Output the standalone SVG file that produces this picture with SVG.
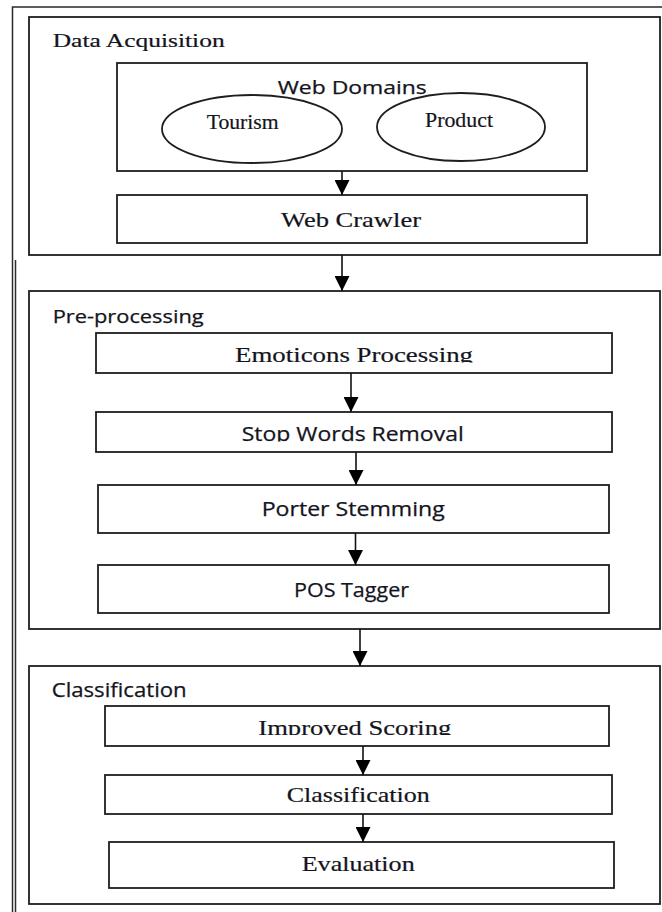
<svg xmlns="http://www.w3.org/2000/svg" width="662" height="912" viewBox="0 0 662 912">
<style>
.box{fill:none;stroke:#1e1e1e;stroke-width:1.8}
.frame{fill:none;stroke:#2a2a2a;stroke-width:1.5}
.conn{stroke:#111;stroke-width:1.6;fill:none}
.serif{font-family:"Liberation Serif","Times New Roman",serif;fill:#141420;stroke:#141420;stroke-width:0.2}
.sans{font-family:"Open Sans","Liberation Sans",Arial,sans-serif;fill:#141420;stroke:#141420;stroke-width:0.25}
</style>
<defs>
<marker id="ah" markerUnits="userSpaceOnUse" markerWidth="15" markerHeight="15" refX="15" refY="7.5" orient="auto">
<path d="M0,0 L15,7.5 L0,15 Z" fill="#000"/>
</marker>
<clipPath id="cEmo"><rect x="96" y="333" width="516" height="29.5"/></clipPath>
<clipPath id="cStop"><rect x="96" y="412" width="516" height="29.5"/></clipPath>
<clipPath id="cImp"><rect x="105" y="706" width="504" height="29"/></clipPath>
</defs>
<rect width="662" height="912" fill="#fff"/>
<g id="frame">
<rect class="frame" x="12.5" y="7" width="700" height="960"/>
<line class="frame" x1="15.5" y1="260" x2="15.5" y2="912" stroke-width="1"/>
</g>
<g id="data-acquisition">
<rect class="box" x="29" y="17" width="631" height="238"/>
<text class="serif" x="52.7" y="46.7" font-size="19" textLength="172" lengthAdjust="spacingAndGlyphs">Data Acquisition</text>
</g>
<g id="web-domains">
<rect class="box" x="117" y="63" width="470" height="108"/>
<text class="sans" x="277.7" y="94" font-size="18" textLength="149" lengthAdjust="spacingAndGlyphs">Web Domains</text>
</g>
<g id="tourism">
<ellipse class="box" cx="252" cy="129" rx="90" ry="34"/>
<text class="serif" x="206.7" y="128.8" font-size="21" textLength="72" lengthAdjust="spacingAndGlyphs">Tourism</text>
</g>
<g id="product">
<ellipse class="box" cx="461" cy="127" rx="84" ry="34"/>
<text class="serif" x="425" y="126.7" font-size="21" textLength="68" lengthAdjust="spacingAndGlyphs">Product</text>
</g>
<g id="web-crawler">
<rect class="box" x="117" y="195" width="470" height="48"/>
<text class="serif" x="281" y="226.7" font-size="21" textLength="140" lengthAdjust="spacingAndGlyphs">Web Crawler</text>
</g>
<g id="pre-processing">
<rect class="box" x="29" y="291" width="631" height="338"/>
<text class="sans" x="52.7" y="323.3" font-size="17.5" textLength="151" lengthAdjust="spacingAndGlyphs">Pre-processing</text>
</g>
<g id="emoticons">
<rect class="box" x="96" y="333" width="516" height="40"/>
<text class="serif" x="235" y="361.7" font-size="22" textLength="238" lengthAdjust="spacingAndGlyphs" clip-path="url(#cEmo)">Emoticons Processing</text>
</g>
<g id="stop-words">
<rect class="box" x="96" y="412" width="516" height="40"/>
<text class="sans" x="241.7" y="440.7" font-size="20" textLength="222" lengthAdjust="spacingAndGlyphs" clip-path="url(#cStop)">Stop Words Removal</text>
</g>
<g id="porter">
<rect class="box" x="98" y="485" width="511" height="48"/>
<text class="sans" x="261.7" y="516" font-size="19.5" textLength="183" lengthAdjust="spacingAndGlyphs">Porter Stemming</text>
</g>
<g id="pos">
<rect class="box" x="98" y="565" width="511" height="48"/>
<text class="sans" x="294" y="597" font-size="20" textLength="115" lengthAdjust="spacingAndGlyphs">POS Tagger</text>
</g>
<g id="classification-stage">
<rect class="box" x="29" y="666" width="631" height="238"/>
<text class="sans" x="51.7" y="696.7" font-size="19.5" textLength="135" lengthAdjust="spacingAndGlyphs">Classification</text>
</g>
<g id="improved-scoring">
<rect class="box" x="105" y="706" width="504" height="40"/>
<text class="serif" x="258.3" y="734.5" font-size="22" textLength="193" lengthAdjust="spacingAndGlyphs" clip-path="url(#cImp)">Improved Scoring</text>
</g>
<g id="classification">
<rect class="box" x="105" y="775" width="507" height="39"/>
<text class="serif" x="286.7" y="802.3" font-size="22" textLength="143" lengthAdjust="spacingAndGlyphs">Classification</text>
</g>
<g id="evaluation">
<rect class="box" x="109" y="842" width="505" height="46"/>
<text class="serif" x="301.7" y="870.7" font-size="21" textLength="113" lengthAdjust="spacingAndGlyphs">Evaluation</text>
</g>
<g id="connectors">
<line class="conn" x1="342" y1="171" x2="342" y2="195" marker-end="url(#ah)"/>
<line class="conn" x1="342" y1="255" x2="342" y2="291" marker-end="url(#ah)"/>
<line class="conn" x1="351" y1="373" x2="351" y2="412" marker-end="url(#ah)"/>
<line class="conn" x1="356" y1="452" x2="356" y2="485" marker-end="url(#ah)"/>
<line class="conn" x1="355.5" y1="533" x2="355.5" y2="565" marker-end="url(#ah)"/>
<line class="conn" x1="360" y1="629" x2="360" y2="666" marker-end="url(#ah)"/>
<line class="conn" x1="363" y1="746" x2="363" y2="775" marker-end="url(#ah)"/>
<line class="conn" x1="363" y1="814" x2="363" y2="842" marker-end="url(#ah)"/>
</g>
</svg>
